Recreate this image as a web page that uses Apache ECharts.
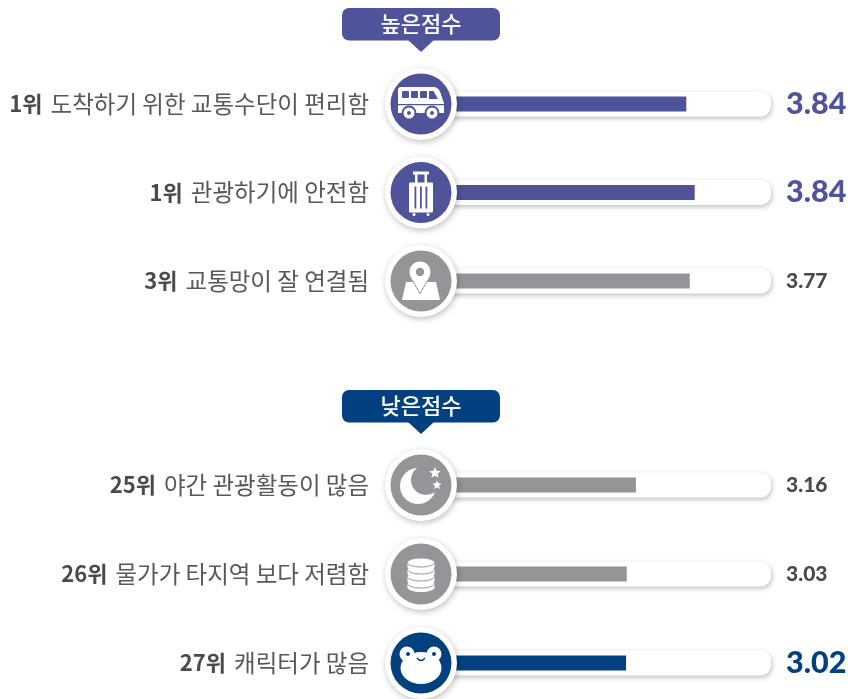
<!DOCTYPE html>
<html lang="ko">
<head>
<meta charset="utf-8">
<title>높은점수 낮은점수</title>
<script src="https://cdn.jsdelivr.net/npm/echarts@6/dist/echarts.min.js"></script>
<style>
  html, body { margin: 0; padding: 0; background: #fff; }
  #chart { width: 848px; height: 699px; }
</style>
</head>
<body>
<div id="chart"></div>
<script>
const topRanks = ['1위', '1위', '3위'];
const topNames = ['도착하기 위한 교통수단이 편리함', '관광하기에 안전함', '교통망이 잘 연결됨'];
const topScores = ['3.84', '3.84', '3.77'];
// bar lengths as drawn in the picture (the original is not exactly to scale)
const topBars = [3.79, 3.91, 3.84];
const topIcons = ['bus', 'luggage', 'pin'];

const lowRanks = ['25위', '26위', '27위'];
const lowNames = ['야간 관광활동이 많음', '물가가 타지역 보다 저렴함', '캐릭터가 많음'];
const lowScores = ['3.16', '3.03', '3.02'];
const lowBars = [3.07, 2.94, 2.93];
const lowIcons = ['moon', 'coins', 'frog'];

const PURPLE = '#4f5399';
const GRAY = '#939598';
const NAVY = '#02407f';
const topColors = [PURPLE, PURPLE, GRAY];
const lowColors = [GRAY, GRAY, NAVY];
const AXIS_MAX = 5;

function star(cx, cy, r) {
  let pts = [];
  for (let i = 0; i < 10; i++) {
    let a = -Math.PI / 2 + i * Math.PI / 5;
    let d = i % 2 ? r * 0.45 : r;
    pts.push([cx + d * Math.cos(a), cy + d * Math.sin(a)]);
  }
  return { type: 'polygon', shape: { points: pts }, style: { fill: '#fff' } };
}

function rect(x, y, w, h, fill, r) {
  return { type: 'rect', shape: { x: x, y: y, width: w, height: h, r: r || 0 }, style: { fill: fill } };
}

function circle(cx, cy, r, fill) {
  return { type: 'circle', shape: { cx: cx, cy: cy, r: r }, style: { fill: fill } };
}

// icon shapes, drawn around the circle centre
const iconDrawers = {
  bus(c) {
    return [
      { type: 'path', shape: { pathData: 'M3 0H36Q41 0 43 5L47 17V27H0V3Q0 0 3 0Z', x: -23, y: -17, width: 46, height: 26, layout: 'cover' }, style: { fill: '#fff' } },
      rect(-19, -13, 7, 7, c, 1), rect(-10, -13, 7, 7, c, 1), rect(-1, -13, 7, 7, c, 1),
      { type: 'path', shape: { pathData: 'M0 0H5L10 9H0Z', x: 8, y: -13, width: 9, height: 8, layout: 'cover' }, style: { fill: c } },
      rect(-23, 0, 46, 1.2, c),
      circle(-12, 9, 7.5, c), circle(-12, 9, 5.5, '#fff'), circle(-12, 9, 2, c),
      circle(11, 9, 7.5, c), circle(11, 9, 5.5, '#fff'), circle(11, 9, 2, c)
    ];
  },
  luggage(c) {
    return [
      rect(-8, -21, 16, 3, '#fff'),
      rect(-6, -20, 2.5, 11, '#fff'), rect(3.5, -20, 2.5, 11, '#fff'),
      rect(-12, -10, 24, 30, '#fff', 1),
      rect(-6.5, -6, 1.8, 22, c), rect(-1, -6, 1.8, 22, c), rect(4.5, -6, 1.8, 22, c),
      circle(-7, 22, 1.5, '#fff'), circle(7, 22, 1.5, '#fff')
    ];
  },
  pin(c) {
    return [
      { type: 'polygon', shape: { points: [[-15, 1], [15, 1], [19, 19], [-19, 19]] }, style: { fill: '#fff' } },
      { type: 'path', shape: { pathData: 'M11 0C17 0 22 5 22 11C22 17 15 24 11 33C7 24 0 17 0 11C0 5 5 0 11 0Z', x: -12, y: -20, width: 22, height: 33, layout: 'cover' }, style: { fill: '#fff', stroke: c, lineWidth: 1 } },
      circle(-1, -9, 4.2, c)
    ];
  },
  moon(c) {
    return [
      circle(-3, 1, 18, '#fff'), circle(5, -5, 15, c),
      star(14, -12, 6), star(16, 0, 4.8)
    ];
  },
  coins(c) {
    let out = [];
    [12, 5, -2, -9].forEach(function (y) {
      out.push({ type: 'ellipse', shape: { cx: 0, cy: y + 1.5, rx: 13.5, ry: 4.5 }, style: { fill: '#fff' } });
      out.push(rect(-13.5, y - 2.5, 27, 4, '#fff'));
      out.push({ type: 'ellipse', shape: { cx: 0, cy: y - 2.5, rx: 13.5, ry: 4.5 }, style: { fill: '#fff', stroke: c, lineWidth: 1 } });
    });
    return out;
  },
  frog(c) {
    return [
      circle(-14, -9, 7.5, '#fff'), circle(13, -9, 7.5, '#fff'),
      { type: 'ellipse', shape: { cx: 0, cy: 5, rx: 20.5, ry: 16 }, style: { fill: '#fff' } },
      circle(-13, -9, 2, c), circle(13, -9, 2, c),
      { type: 'bezierCurve', shape: { x1: -4, y1: -5, cpx1: 0, cpy1: 0, x2: 4, y2: -5 }, style: { fill: null, stroke: c, lineWidth: 1.4 } }
    ];
  }
};

function rowLabels(ranks, names) {
  return names.map(function (n, i) {
    return '{rank|' + ranks[i] + '}{gap|}{name|' + n + '}';
  });
}

function buildRows(index, ranks, names, scores, bars, icons, colors) {
  const cats = rowLabels(ranks, names);
  const scoreLabel = {
    show: true,
    position: 'right',
    distance: 15,
    formatter: function (p) {
      let big = colors[p.dataIndex] !== GRAY;
      return '{' + (big ? 'big' : 'small') + p.dataIndex + '|' + scores[p.dataIndex] + '}';
    },
    rich: {}
  };
  colors.forEach(function (c, i) {
    scoreLabel.rich['big' + i] = { fontFamily: 'Lato', fontWeight: 900, fontSize: 30.5, color: c };
    scoreLabel.rich['small' + i] = { fontFamily: 'Lato', fontWeight: 900, fontSize: 21, color: '#4a4a4c' };
  });
  return [
    {
      // white track sits on its own hidden axis so it centres on the row independently of the bar
      type: 'bar', xAxisIndex: index, yAxisIndex: index + 2, silent: true, barWidth: 25,
      data: cats.map(function () { return AXIS_MAX; }),
      itemStyle: {
        color: '#fff', borderRadius: [0, 10, 10, 0],
        shadowColor: 'rgba(0,0,0,0.25)', shadowBlur: 5, shadowOffsetX: 1, shadowOffsetY: 2
      },
      label: scoreLabel,
      z: 2
    },
    {
      type: 'bar', xAxisIndex: index, yAxisIndex: index, silent: true, barWidth: 15,
      data: bars.map(function (v, i) { return { value: v, itemStyle: { color: colors[i] } }; }),
      z: 3
    },
    {
      type: 'custom', xAxisIndex: index, yAxisIndex: index, silent: true, clip: false,
      data: cats.map(function (c) { return [0, c]; }),
      encode: { x: 0, y: 1 },
      renderItem: function (params, api) {
        let p = api.coord([0, api.value(1)]);
        let c = colors[params.dataIndex];
        return {
          type: 'group',
          x: p[0],
          y: p[1],
          children: [
            { type: 'circle', shape: { cx: 0, cy: 0, r: 36 }, style: { fill: '#fff', shadowColor: 'rgba(0,0,0,0.25)', shadowBlur: 6, shadowOffsetX: 1, shadowOffsetY: 2 } },
            circle(0, 0, 30.5, c)
          ].concat(iconDrawers[icons[params.dataIndex]](c))
        };
      },
      z: 4
    }
  ];
}

function badge(y, color, text) {
  return {
    type: 'group',
    children: [
      { type: 'rect', shape: { x: 342, y: y, width: 158, height: 32.5, r: 7 }, style: { fill: color } },
      { type: 'polygon', shape: { points: [[408, y + 32], [434, y + 32], [421, y + 44]] }, style: { fill: color } },
      { type: 'text', x: 421, y: y + 16, style: { text: text, fill: '#fff', font: '500 22px "Noto Sans CJK KR"', align: 'center', verticalAlign: 'middle' } }
    ]
  };
}

function yAxis(index, ranks, names) {
  return {
    type: 'category', gridIndex: index, inverse: true, boundaryGap: false, data: rowLabels(ranks, names),
    axisLine: { show: false }, axisTick: { show: false },
    axisLabel: {
      margin: 52,
      rich: {
        rank: { fontFamily: 'Noto Sans CJK KR', fontWeight: 700, fontSize: 22, color: '#4a4a4c' },
        gap: { width: 8 },
        name: { fontFamily: 'Noto Sans CJK KR', fontWeight: 400, fontSize: 23.5, color: '#58585a' }
      }
    }
  };
}

function hiddenAxis(index, ranks, names) {
  return { type: 'category', gridIndex: index, inverse: true, boundaryGap: false, data: rowLabels(ranks, names), show: false };
}

function xAxis(index) {
  return { type: 'value', gridIndex: index, min: 0, max: AXIS_MAX, show: false };
}

const chart = echarts.init(document.getElementById('chart'), null, { renderer: 'canvas' });
chart.setOption({
  animation: false,
  backgroundColor: '#fff',
  grid: [
    { left: 421, width: 350, top: 104, height: 177 },
    { left: 421, width: 350, top: 485, height: 178 }
  ],
  xAxis: [xAxis(0), xAxis(1)],
  yAxis: [
    yAxis(0, topRanks, topNames), yAxis(1, lowRanks, lowNames),
    hiddenAxis(0, topRanks, topNames), hiddenAxis(1, lowRanks, lowNames)
  ],
  series: buildRows(0, topRanks, topNames, topScores, topBars, topIcons, topColors)
    .concat(buildRows(1, lowRanks, lowNames, lowScores, lowBars, lowIcons, lowColors)),
  graphic: [badge(8, PURPLE, '높은점수'), badge(390, NAVY, '낮은점수')]
});
</script>
</body>
</html>
